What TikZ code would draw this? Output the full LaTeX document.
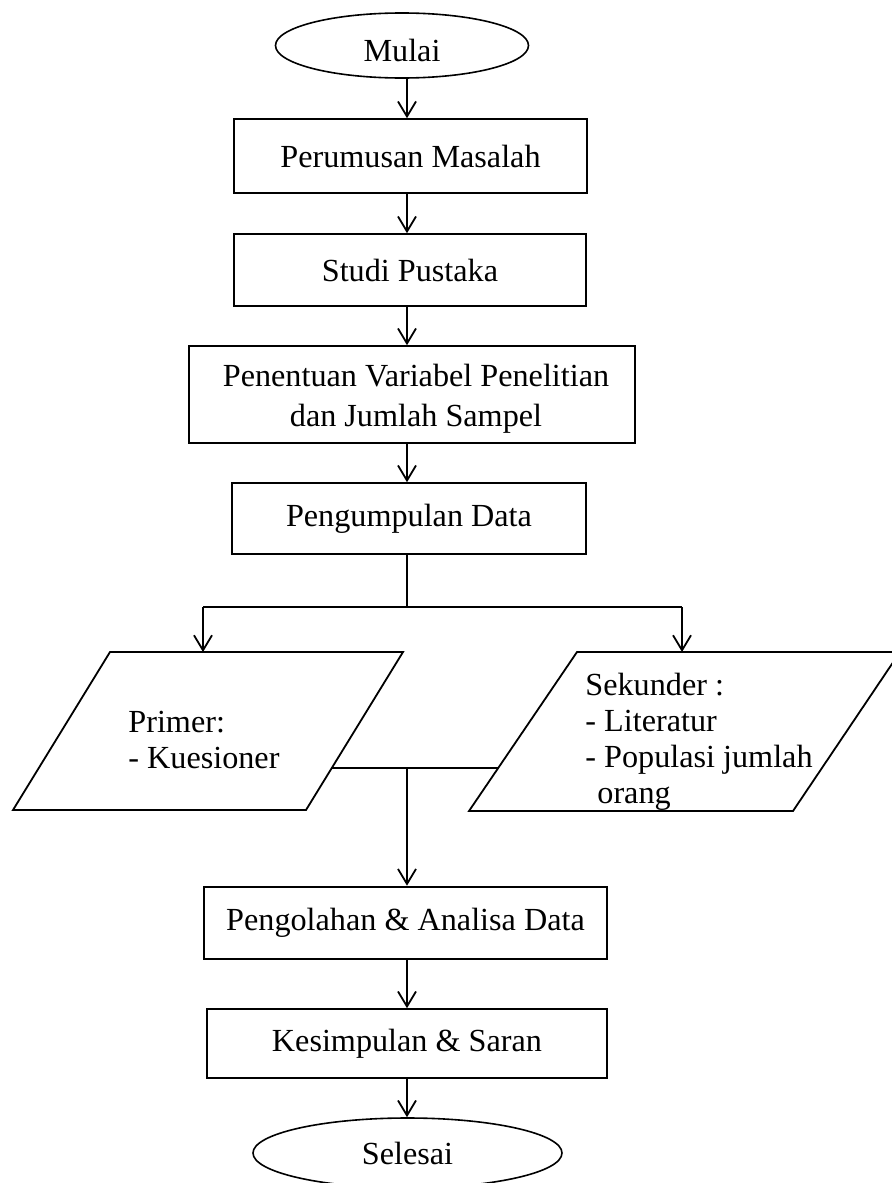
\documentclass[tikz,border=0pt]{standalone}
\usepackage{fontspec}
\setmainfont{Liberation Serif}
\usetikzlibrary{shapes.geometric,arrows.meta}
\begin{document}
\begin{tikzpicture}[x=0.5pt,y=-0.5pt,
  every node/.style={font=\fontsize{16.1pt}{19.8pt}\selectfont, inner sep=0pt},
  procbox/.style={draw, line width=0.8pt, rectangle, align=center},
  term/.style={draw, line width=0.8pt, ellipse},
  ln/.style={line width=0.9pt},
  arr/.style={ln, -{Straight Barb[length=7.5pt,width=9pt,line width=0.9pt]}},
  listtxt/.style={anchor=west, align=left, font=\fontsize{16.1pt}{18pt}\selectfont}]
\useasboundingbox (0,0) rectangle (892,1183);
\clip (0,0) rectangle (892,1183);
\fill[white] (0,0) rectangle (892,1183);
\coordinate (axis) at (407,0);

\node[term, minimum width=126.5pt, minimum height=32.5pt, text height=16pt, text depth=0pt] (mulai) at (402,45.5) {Mulai};
\node[procbox, minimum width=176.5pt, minimum height=37pt] (perumusan) at (410.5,156) {Perumusan Masalah};
\node[procbox, minimum width=176pt, minimum height=36pt] (studi) at (410,270) {Studi Pustaka};
\node[procbox, minimum width=223pt, minimum height=48.5pt] (penentuan) at (412,394.5) {};
\node[align=center] (penentuantxt) at (416,399) {Penentuan Variabel Penelitian\\dan Jumlah Sampel};
\node[procbox, minimum width=177pt, minimum height=35.5pt] (pengumpulan) at (409,518.5) {Pengumpulan Data};

% parallelograms
\draw[ln] (110,652) coordinate (prTL) -- (403,652) coordinate (prTR) -- (306,810) coordinate (prBR) -- (13,810) coordinate (prBL) -- cycle;
\draw[ln] (577,652) coordinate (skTL) -- (900,652) coordinate (skTR) -- (793,811) coordinate (skBR) -- (469,811) coordinate (skBL) -- cycle;
\node[listtxt] (primer) at (128,740) {Primer:\\- Kuesioner};
\node[listtxt] (sekunder) at (585,742) {Sekunder :\\- Literatur\\- Populasi jumlah\\\hspace*{6pt}orang};
\coordinate (prTop) at (203,652);
\coordinate (skTop) at (682,652);
\coordinate (split) at (407,607);
\coordinate (splitL) at (203,607);
\coordinate (splitR) at (682,607);
\coordinate (mergeL) at (332,768);
\coordinate (mergeR) at (498,768);
\coordinate (merge) at (407,768);

\node[procbox, line width=1.3pt, minimum width=201.5pt, minimum height=36pt] (pengolahan) at (405.5,923) {Pengolahan \& Analisa Data};
\node[procbox, minimum width=200pt, minimum height=34.5pt] (kesimpulan) at (407,1043.5) {Kesimpulan \& Saran};
\node[term, minimum width=154.5pt, minimum height=35pt] (selesai) at (407.5,1153) {Selesai};

% connectors
\draw[arr] (axis |- mulai.south) -- (axis |- perumusan.north);
\draw[arr] (axis |- perumusan.south) -- (axis |- studi.north);
\draw[arr] (axis |- studi.south) -- (axis |- penentuan.north);
\draw[arr] (axis |- penentuan.south) -- (axis |- pengumpulan.north);
\draw[ln] (axis |- pengumpulan.south) -- (split);
\draw[ln] (splitL) -- (splitR);
\draw[arr] (splitL) -- (prTop);
\draw[arr] (splitR) -- (skTop);
\draw[ln] (mergeL) -- (mergeR);
\draw[arr] (merge) -- (axis |- pengolahan.north);
\draw[arr] (axis |- pengolahan.south) -- (axis |- kesimpulan.north);
\draw[arr] (axis |- kesimpulan.south) -- (axis |- selesai.north);
\end{tikzpicture}
\end{document}
